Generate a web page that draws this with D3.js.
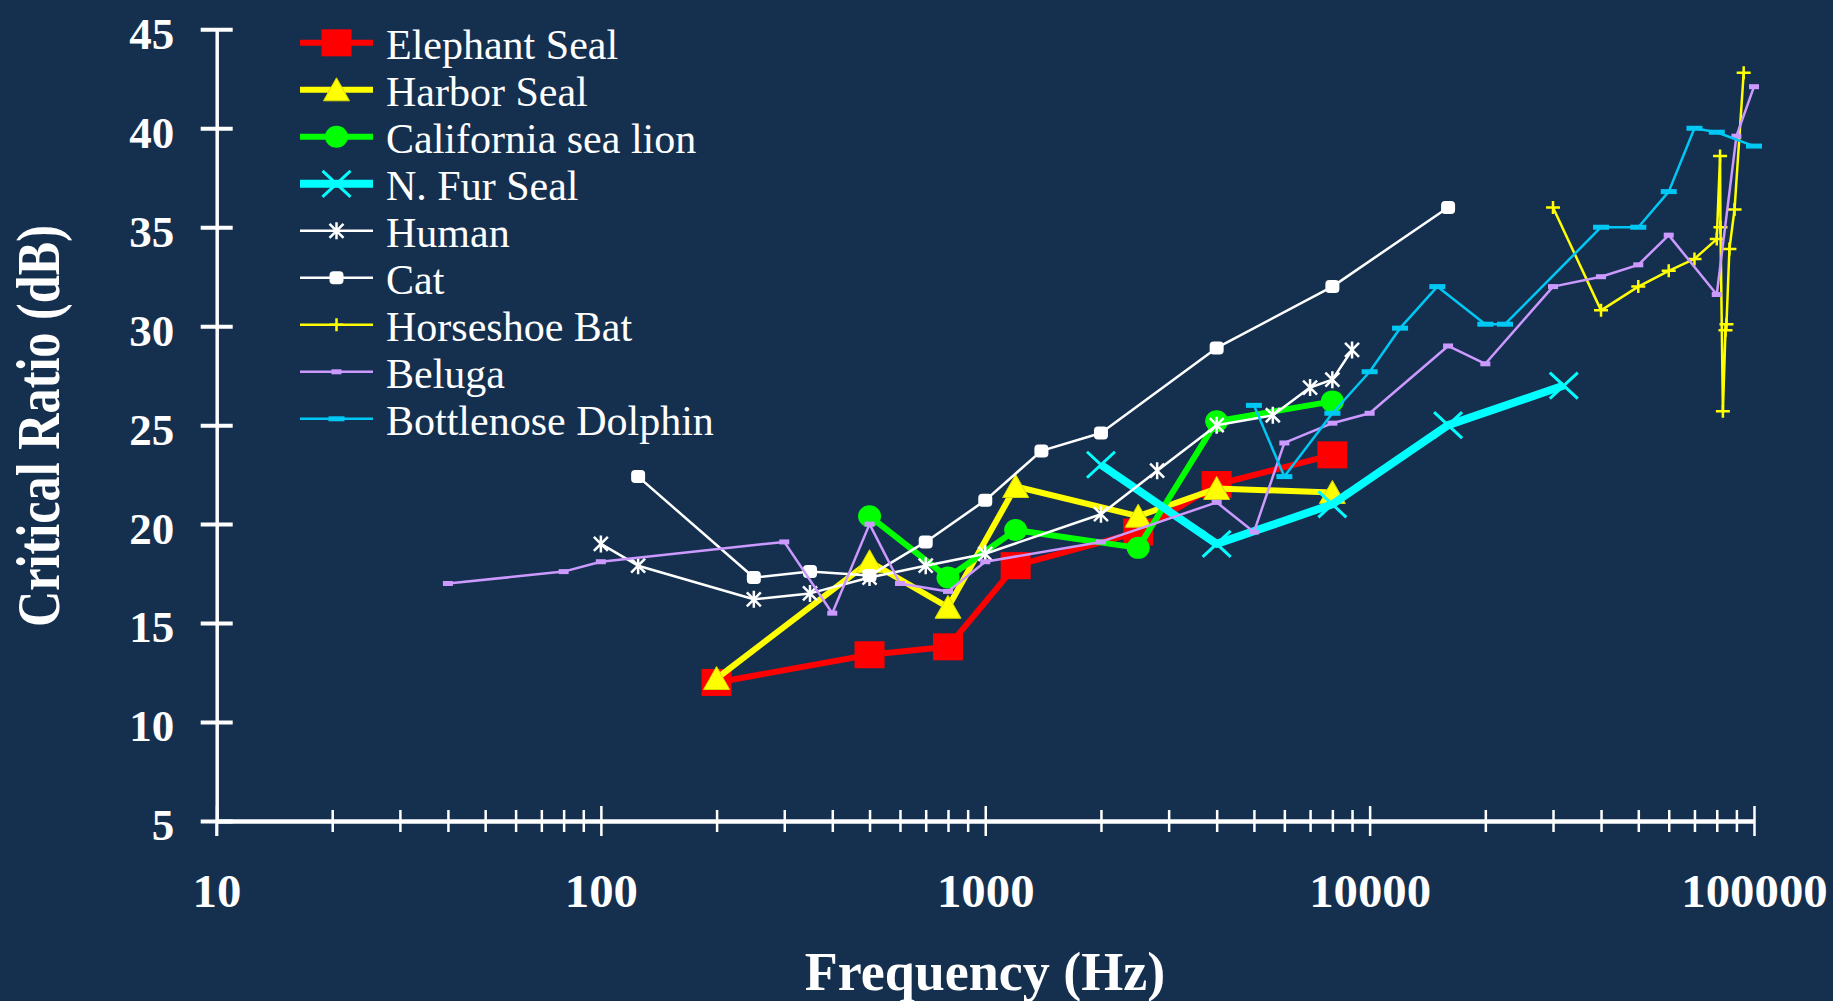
<!DOCTYPE html>
<html>
<head>
<meta charset="utf-8">
<script src="https://cdn.jsdelivr.net/npm/d3@7"></script>
<style>
  html, body { margin: 0; padding: 0; background: #15304f; overflow: hidden; }
  svg { display: block; }
</style>
</head>
<body>
<svg id="chart" width="1833" height="1001"></svg>
<script>
// Critical ratio (dB) versus frequency (Hz) for several species.
// Each series is a list of [frequency, critical ratio] pairs.
const elephantSeal = [[200, 12.0], [500, 13.4], [800, 13.8], [1200, 17.9], [2500, 19.6], [4000, 22.0], [8000, 23.5]];
const harborSeal = [[200, 12.2], [500, 18.1], [800, 15.8], [1200, 21.9], [2500, 20.4], [4000, 21.8], [8000, 21.6]];
const californiaSeaLion = [[500, 20.4], [800, 17.3], [1200, 19.7], [2500, 18.8], [4000, 25.2], [8000, 26.2]];
const northernFurSeal = [[2000, 23.0], [4000, 19.0], [8000, 21.0], [16000, 25.0], [32000, 27.0]];
const human = [[100, 19.0], [125, 17.9], [250, 16.2], [350, 16.5], [500, 17.3], [700, 17.9], [1000, 18.5],
  [2000, 20.5], [2800, 22.7], [4000, 25.0], [5600, 25.5], [7000, 26.9], [8000, 27.3], [9000, 28.8]];
const cat = [[125, 22.4], [250, 17.3], [350, 17.6], [500, 17.4], [700, 19.1], [1000, 21.2], [1400, 23.7],
  [2000, 24.6], [4000, 28.9], [8000, 32.0], [16000, 36.0]];
const horseshoeBat = [[30000, 36.0], [40000, 30.8], [50000, 32.0], [60000, 32.8], [70000, 33.4], [80000, 34.4],
  [81600, 38.6], [81800, 35.0], [83000, 25.7], [84300, 29.8], [84800, 30.1], [86300, 33.9], [89000, 35.9], [94000, 42.8]];
const beluga = [[40, 17.0], [80, 17.6], [100, 18.1], [300, 19.1], [400, 15.5], [500, 20.0], [600, 17.0], [800, 16.6],
  [1000, 18.1], [2000, 19.1], [4000, 21.1], [5000, 19.6], [6000, 24.1], [8000, 25.1], [10000, 25.6], [16000, 29.0],
  [20000, 28.1], [30000, 32.0], [40000, 32.5], [50000, 33.1], [60000, 34.6], [80000, 31.6], [90000, 39.6], [100000, 42.1]];
const bottlenoseDolphin = [[5000, 26.0], [6000, 22.4], [8000, 25.6], [10000, 27.7], [12000, 29.9], [15000, 32.0],
  [20000, 30.1], [22500, 30.1], [40000, 35.0], [50000, 35.0], [60000, 36.8], [70000, 40.0], [80000, 39.8], [100000, 39.1]];

const freqTicks = [10, 100, 1000, 10000, 100000];
const ratioTicks = [5, 10, 15, 20, 25, 30, 35, 40, 45];
const seriesNames = ["Elephant Seal", "Harbor Seal", "California sea lion", "N. Fur Seal", "Human", "Cat",
  "Horseshoe Bat", "Beluga", "Bottlenose Dolphin"];
const seriesData = [elephantSeal, harborSeal, californiaSeaLion, northernFurSeal, human, cat,
  horseshoeBat, beluga, bottlenoseDolphin];

// Appearance of each series, in legend order
const styles = [
  { color: "#ff0000", width: 6, marker: "square" },
  { color: "#ffff00", width: 6, marker: "triangle" },
  { color: "#00ff00", width: 6, marker: "circle" },
  { color: "#00ffff", width: 8, marker: "cross" },
  { color: "#ffffff", width: 2.5, marker: "asterisk" },
  { color: "#ffffff", width: 2.5, marker: "dot" },
  { color: "#ffff00", width: 2.5, marker: "plus" },
  { color: "#cc99ff", width: 2.5, marker: "smallbar" },
  { color: "#00c8f5", width: 2.5, marker: "dash" }
];

const svg = d3.select("#chart");
svg.append("rect").attr("width", 1833).attr("height", 1001).attr("fill", "#15304f");

const x = d3.scaleLog().domain([10, 100000]).range([216.5, 1754]);
const y = d3.scaleLinear().domain([5, 45]).range([821, 29.3]);

const FONT = "'Liberation Serif', 'Times New Roman', serif";

function drawMarker(g, type, color) {
  switch (type) {
    case "square":
      g.append("rect").attr("x", -15).attr("y", -13.5).attr("width", 30).attr("height", 27).attr("fill", color);
      break;
    case "triangle":
      g.append("path").attr("d", "M0,-12 L13,11 L-13,11 Z").attr("fill", color)
        .attr("stroke", "#d8d800").attr("stroke-width", 1);
      break;
    case "circle":
      g.append("ellipse").attr("rx", 11.5).attr("ry", 11).attr("fill", color);
      break;
    case "cross":
      g.append("path").attr("d", "M-14,-13 L14,13 M-14,13 L14,-13").attr("stroke", color)
        .attr("stroke-width", 3).attr("fill", "none");
      break;
    case "asterisk":
      g.append("path").attr("d", "M-7,-7 L7,7 M-7,7 L7,-7 M0,-8.5 L0,8.5").attr("stroke", color)
        .attr("stroke-width", 2.5).attr("fill", "none");
      break;
    case "dot":
      g.append("rect").attr("x", -7).attr("y", -6.5).attr("width", 14).attr("height", 13)
        .attr("rx", 4).attr("fill", color);
      break;
    case "plus":
      g.append("path").attr("d", "M-7,0 L7,0 M0,-6.5 L0,6.5").attr("stroke", color)
        .attr("stroke-width", 2.5).attr("fill", "none");
      break;
    case "smallbar":
      g.append("rect").attr("x", -5).attr("y", -2.5).attr("width", 10).attr("height", 5).attr("fill", color);
      break;
    case "dash":
      g.append("rect").attr("x", -8).attr("y", -2.5).attr("width", 16).attr("height", 5).attr("fill", color);
      break;
  }
}

// Axes
const minorTicks = [];
for (let dec = 10; dec < 100000; dec *= 10) {
  for (let k = 1; k <= 9; k++) minorTicks.push(dec * k);
}
minorTicks.push(100000);

const xAxisG = svg.append("g").attr("transform", "translate(0,821)")
  .call(d3.axisBottom(x).tickValues(minorTicks).tickSize(0).tickFormat(""));
xAxisG.select(".domain").attr("stroke", "#fff").attr("stroke-width", 4.5);
xAxisG.selectAll(".tick line")
  .attr("stroke", "#fff").attr("stroke-width", 2.5)
  .attr("y1", d => (freqTicks.includes(d) ? -15 : -11))
  .attr("y2", d => (freqTicks.includes(d) ? 15 : 11));

const fmt = d3.format("d");
const xLabelG = svg.append("g").attr("transform", "translate(0,821)")
  .call(d3.axisBottom(x).tickValues(freqTicks).tickSize(0).tickPadding(53).tickFormat(fmt));
xLabelG.select(".domain").remove();
xLabelG.selectAll("text").attr("fill", "#fff").attr("font-family", FONT)
  .attr("font-size", 46).attr("font-weight", "bold")
  .attr("textLength", d => fmt(d).length * 24.4).attr("lengthAdjust", "spacingAndGlyphs");

const yAxisG = svg.append("g").attr("transform", "translate(216.7,0)")
  .call(d3.axisLeft(y).tickValues(ratioTicks).tickSize(0).tickPadding(42.5));
yAxisG.select(".domain").attr("stroke", "#fff").attr("stroke-width", 3.5);
yAxisG.selectAll(".tick line").attr("stroke", "#fff").attr("stroke-width", 4)
  .attr("x1", -16).attr("x2", 16);
yAxisG.selectAll("text").attr("fill", "#fff").attr("font-family", FONT)
  .attr("font-size", 45).attr("font-weight", "bold").attr("dy", "0.42em");
// extend the vertical axis down through the x axis
svg.append("line").attr("x1", 216.7).attr("x2", 216.7).attr("y1", y(5)).attr("y2", 836)
  .attr("stroke", "#fff").attr("stroke-width", 3);

// Axis titles
svg.append("text").attr("x", 985).attr("y", 990).attr("text-anchor", "middle")
  .attr("fill", "#fff").attr("font-family", FONT).attr("font-size", 54).attr("font-weight", "bold")
  .text("Frequency (Hz)");
svg.append("text").attr("transform", "translate(59,426) rotate(-90)").attr("text-anchor", "middle")
  .attr("fill", "#fff").attr("font-family", FONT).attr("font-size", 62).attr("font-weight", "bold")
  .attr("textLength", 402).attr("lengthAdjust", "spacingAndGlyphs")
  .text("Critical Ratio (dB)");

// Series
const line = d3.line().x(d => x(d[0])).y(d => y(d[1]));
seriesData.forEach((data, i) => {
  const st = styles[i];
  const g = svg.append("g").attr("class", "series");
  g.append("path").datum(data).attr("d", line).attr("fill", "none")
    .attr("stroke", st.color).attr("stroke-width", st.width).attr("stroke-linejoin", "round");
  g.selectAll("g.pt").data(data).join("g").attr("class", "pt")
    .attr("transform", d => `translate(${x(d[0])},${y(d[1])})`)
    .each(function () { drawMarker(d3.select(this), st.marker, st.color); });
});

// Legend
const legend = svg.append("g").attr("class", "legend");
seriesNames.forEach((name, i) => {
  const st = styles[i];
  const base = 59.3 + i * 47;
  const ly = base - 16.5;
  const row = legend.append("g");
  row.append("line").attr("x1", 300).attr("x2", 373).attr("y1", ly).attr("y2", ly)
    .attr("stroke", st.color).attr("stroke-width", st.width);
  drawMarker(row.append("g").attr("transform", `translate(336.5,${ly})`), st.marker, st.color);
  row.append("text").attr("x", 386).attr("y", base).attr("fill", "#fff")
    .attr("font-family", FONT).attr("font-size", 42).text(name);
});
</script>
</body>
</html>
